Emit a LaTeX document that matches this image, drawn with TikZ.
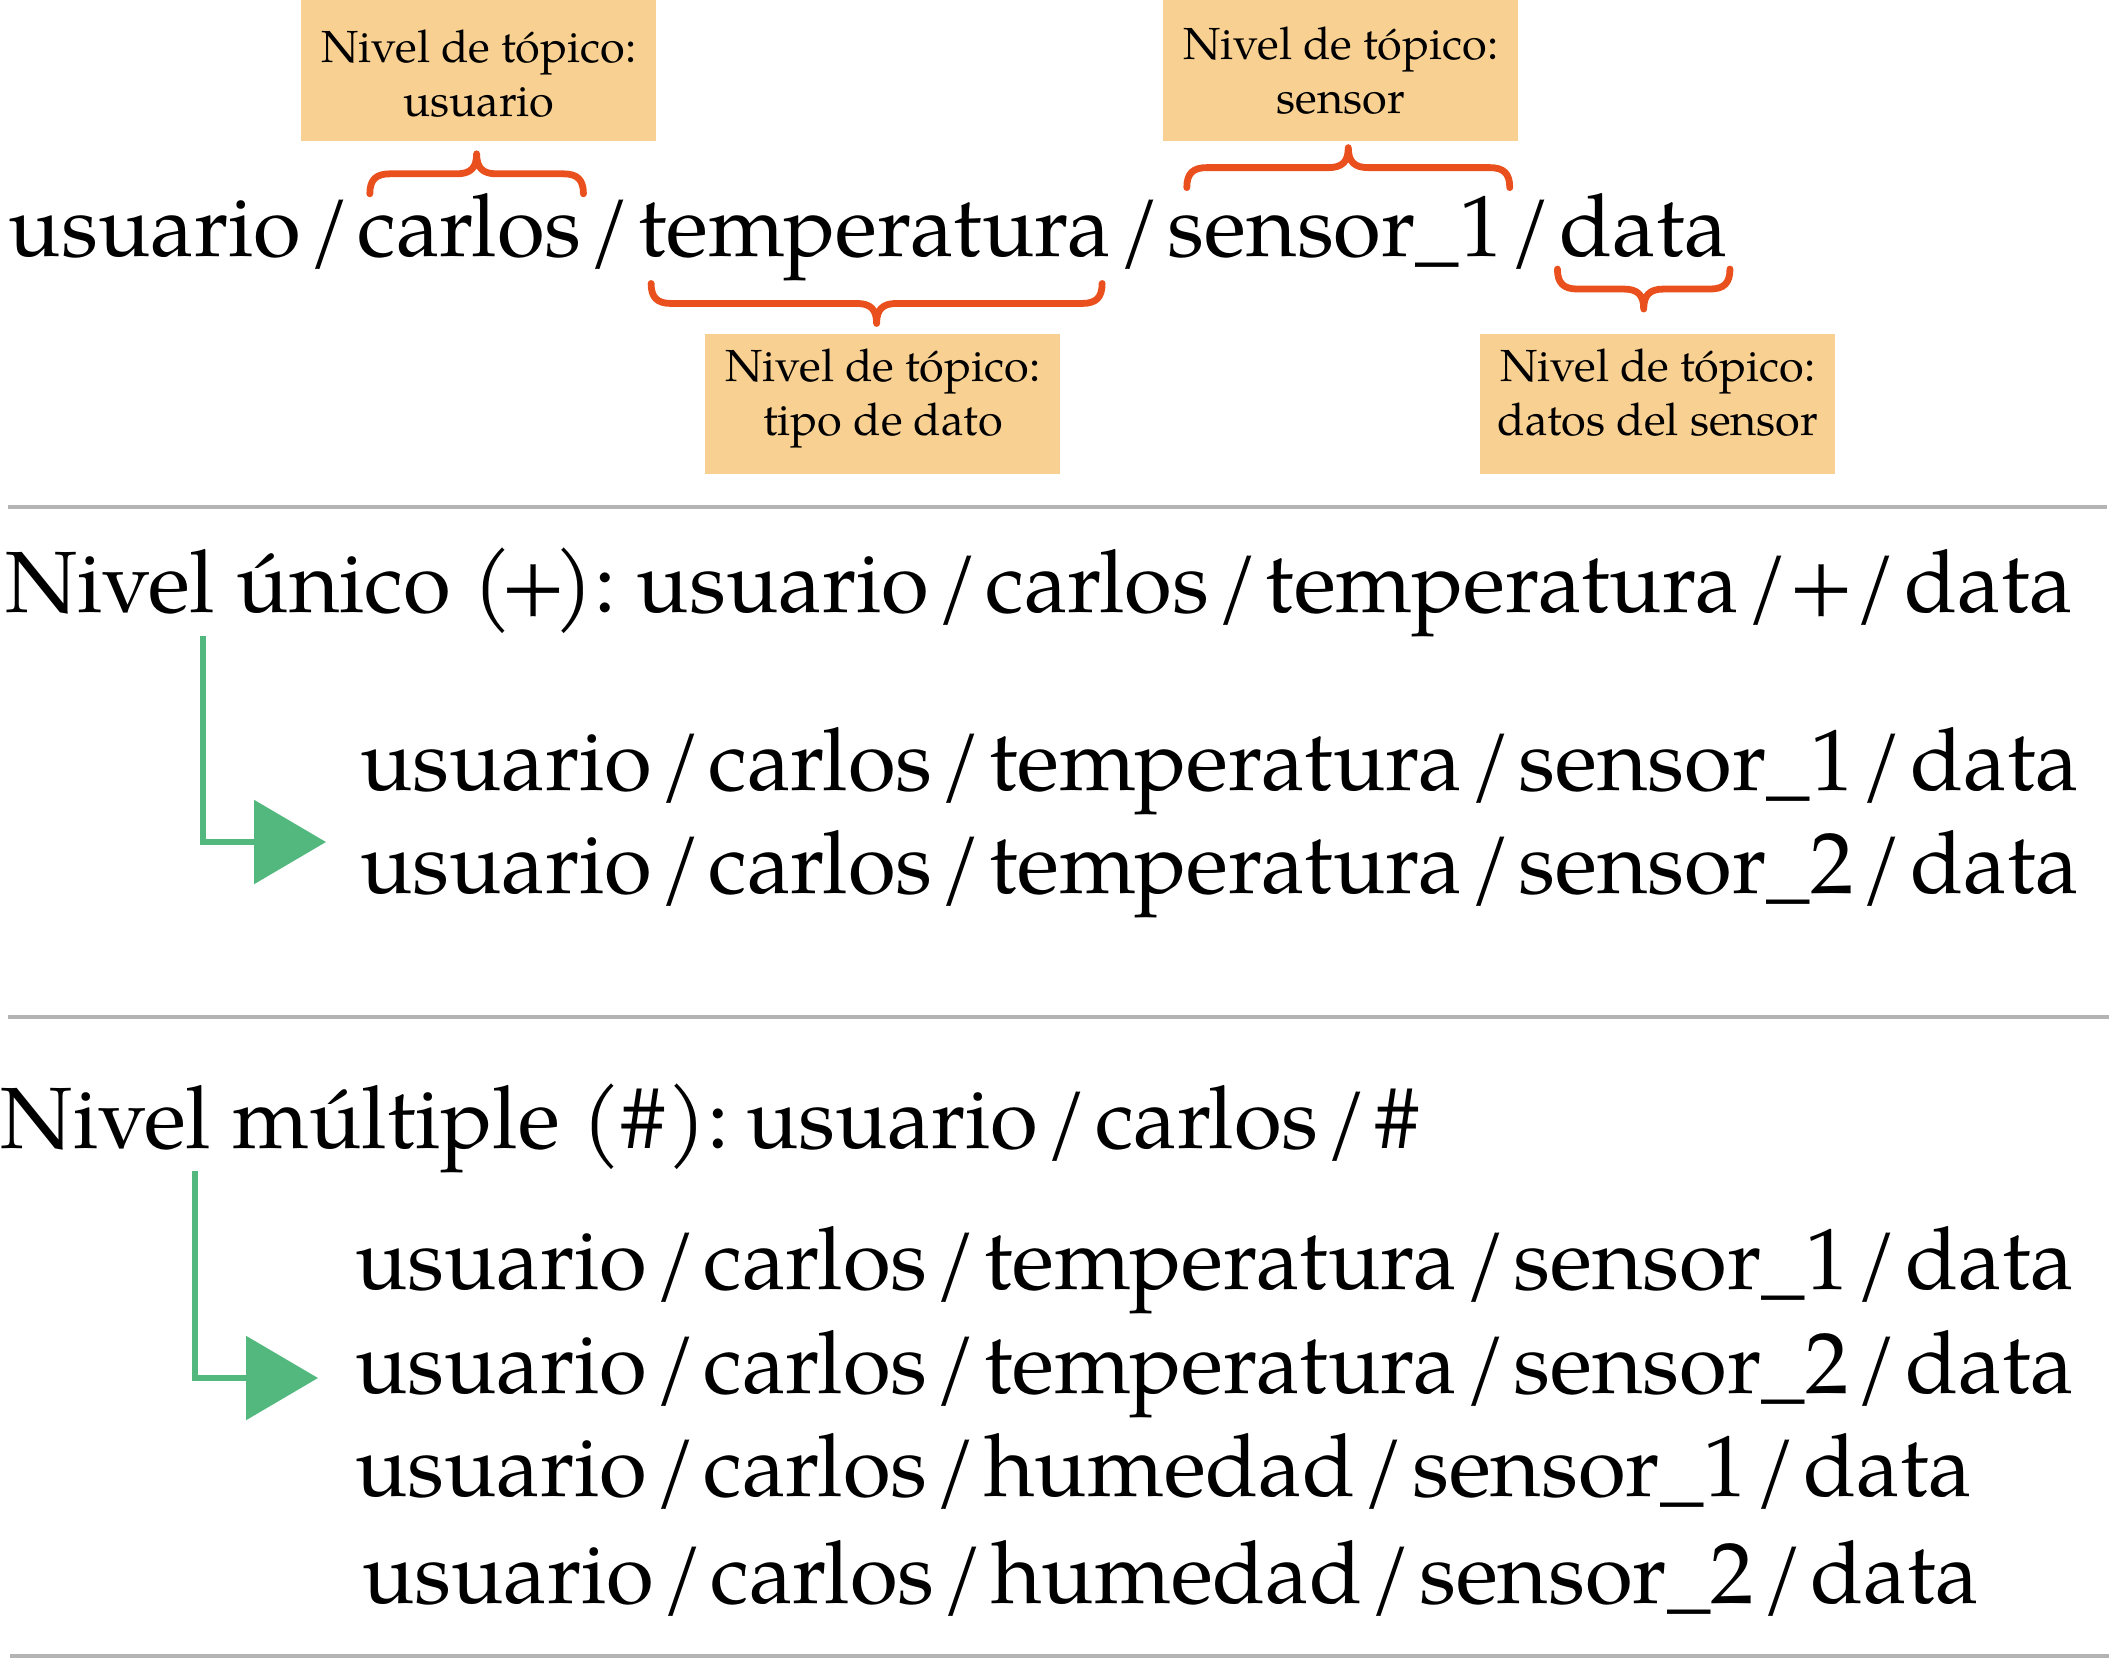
\documentclass[tikz,border=0pt]{standalone}
\usepackage{fontspec}
\setmainfont{TeX Gyre Pagella}
\usetikzlibrary{arrows.meta,calc}
\definecolor{boxfill}{HTML}{F8D092}
\definecolor{bracecol}{HTML}{E9501E}
\definecolor{arrowgreen}{HTML}{52B87D}
\definecolor{sepgray}{HTML}{B4B4B4}
\newcommand\tsl{\kern3.6pt/\kern3.6pt}
\newcommand\tpl{\kern-3.5pt+\kern-3.5pt}
% curly brace from #1 to #2 (left to right); #3 = 1 (tip up) or -1 (tip down)
\newcommand\topicbrace[3]{%
  \draw[curlyline] let \p1=#1, \p2=#2, \p3=($#1!0.5!#2$) in
    (\x1,\y1) .. controls (\x1,{\y1+(#3)*7pt}) and ({\x1+3pt},{\y1+(#3)*10pt}) .. ({\x1+10pt},{\y1+(#3)*10pt})
    -- ({\x3-10pt},{\y1+(#3)*10pt}) .. controls ({\x3-3pt},{\y1+(#3)*10pt}) and (\x3,{\y1+(#3)*13pt}) .. (\x3,{\y1+(#3)*20pt})
    .. controls (\x3,{\y1+(#3)*13pt}) and ({\x3+3pt},{\y1+(#3)*10pt}) .. ({\x3+10pt},{\y1+(#3)*10pt})
    -- ({\x2-10pt},{\y1+(#3)*10pt}) .. controls ({\x2-3pt},{\y1+(#3)*10pt}) and (\x2,{\y1+(#3)*7pt}) .. (\x2,\y1);}
\begin{document}
\begin{tikzpicture}[x=0.5pt,y=-0.5pt,
  seg/.style={font=\fontsize{43.5}{52}\selectfont, inner sep=0pt, outer sep=0pt, anchor=base west},
  tbox/.style={rectangle, fill=boxfill, draw=none, inner sep=0pt, anchor=north west, minimum width=177.5pt},
  btext/.style={font=\fontsize{22.5}{27}\selectfont, align=center, inner sep=0pt, anchor=base},
  curlyline/.style={draw=bracecol, line width=3.4pt, line cap=round, line join=round},
  garrow/.style={draw=arrowgreen, line width=3pt, -{Triangle[length=36pt,width=41.5pt]}},
  sepline/.style={draw=sepgray, line width=2.2pt}
]
\useasboundingbox (0,0) rectangle (2109,1659);

% ---- top: annotated topic ----
\node[tbox, minimum height=70.5pt] (b1) at (301,0) {};
\node[btext] (b1t) at ($(b1.north)+(0,117)$) {Nivel de tópico:\\usuario};
\node[tbox, minimum height=70.5pt] (b2) at (1163,0) {};
\node[btext] (b2t) at ($(b2.north)+(0,113)$) {Nivel de tópico:\\sensor};
\node[tbox, minimum height=70pt] (b3) at (705,334) {};
\node[btext] (b3t) at ($(b3.north)+(0,101)$) {Nivel de tópico:\\tipo de dato};
\node[tbox, minimum height=70pt] (b4) at (1480,334) {};
\node[btext] (b4t) at ($(b4.north)+(0,101)$) {Nivel de tópico:\\datos del sensor};

\node[seg] (w1) at (9,256) {usuario};
\node[seg] (s1) at (w1.base east) {\tsl};
\node[seg] (w2) at (s1.base east) {carlos};
\node[seg] (s2) at (w2.base east) {\tsl};
\node[seg] (w3) at (s2.base east) {temperatura};
\node[seg] (s3) at (w3.base east) {\tsl};
\node[seg] (w4) at (s3.base east) {sensor\_1};
\node[seg] (s4) at (w4.base east) {\tsl};
\node[seg] (w5) at (s4.base east) {data};

\topicbrace{($(w2.north west)+(12,1)$)}{($(w2.north east)+(2,1)$)}{1}
\topicbrace{($(w3.south west)+(13,3)$)}{($(w3.south east)+(-9,3)$)}{-1}
\topicbrace{($(w4.north west)+(19,-8)$)}{($(w4.north east)+(7,-8)$)}{1}
\topicbrace{($(w5.south west)+(-2,12)$)}{($(w5.south east)+(2,12)$)}{-1}

% ---- single level ----
\coordinate (l1a) at (8,507);
\coordinate (l1b) at (2107,507);
\draw[sepline] (l1a) -- (l1b);
\node[seg] (h2) at (5,612) {Nivel único (\kern-6pt+\kern-6pt):\kern-4pt{} usuario\tsl carlos\tsl temperatura\tsl\tpl\tsl data};
\node[seg] (r1) at (360,790) {usuario\tsl carlos\tsl temperatura\tsl sensor\_1\tsl data};
\node[seg] (r2) at (360,893) {usuario\tsl carlos\tsl temperatura\tsl sensor\_2\tsl data};
\coordinate (g1s) at (203,636);
\coordinate (g1e) at (326,842);
\draw[garrow] (g1s) |- (g1e);

% ---- multi level ----
\coordinate (l2a) at (8,1017);
\coordinate (l2b) at (2109,1017);
\draw[sepline] (l2a) -- (l2b);
\node[seg] (h3) at (1,1148) {Nivel múltiple (\#\kern1.5pt):\kern-6pt{} usuario\tsl carlos\tsl\#};
\node[seg] (m1) at (355,1289) {usuario\tsl carlos\tsl temperatura\tsl sensor\_1\tsl data};
\node[seg] (m2) at (355,1393) {usuario\tsl carlos\tsl temperatura\tsl sensor\_2\tsl data};
\node[seg] (m3) at (355,1496) {usuario\tsl carlos\tsl humedad\tsl sensor\_1\tsl data};
\node[seg] (m4) at (362,1603) {usuario\tsl carlos\tsl humedad\tsl sensor\_2\tsl data};
\coordinate (g2s) at (195,1171);
\coordinate (g2e) at (318,1378);
\draw[garrow] (g2s) |- (g2e);

\coordinate (l3a) at (10,1656);
\coordinate (l3b) at (2109,1656);
\draw[sepline] (l3a) -- (l3b);
\end{tikzpicture}
\end{document}
